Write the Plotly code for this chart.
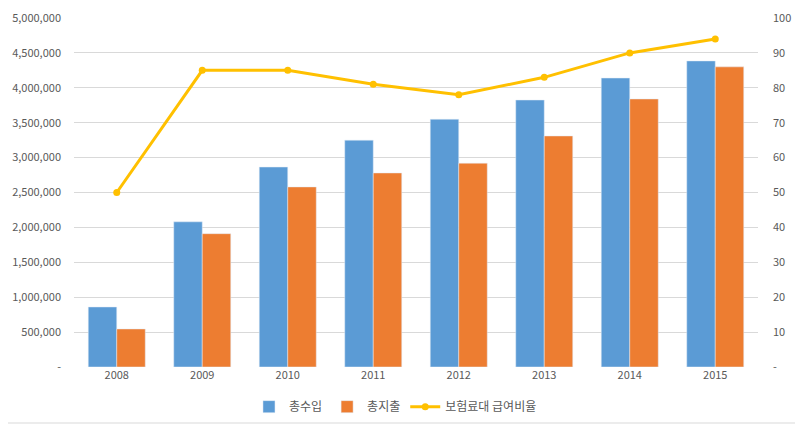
import plotly.graph_objects as go

years = ["2008", "2009", "2010", "2011", "2012", "2013", "2014", "2015"]
income = [860000, 2080000, 2865000, 3250000, 3550000, 3825000, 4140000, 4385000]
expense = [545000, 1910000, 2580000, 2780000, 2920000, 3310000, 3840000, 4300000]
ratio = [50, 85, 85, 81, 78, 83, 90, 94]

left_vals = list(range(0, 5000001, 500000))
left_text = ["-"] + [f"{v:,}" for v in left_vals[1:]]
right_vals = list(range(0, 101, 10))
right_text = ["-"] + [str(v) for v in right_vals[1:]]

FONT = "Noto Sans CJK KR"
GRAY = "#595959"

PW, PH = 684, 349

fig = go.Figure()
fig.add_trace(go.Bar(x=years, y=income, name="총수입", marker_color="#5B9BD5"))
fig.add_trace(go.Bar(x=years, y=expense, name="총지출", marker_color="#ED7D31"))
fig.add_trace(go.Scatter(x=years, y=ratio, name="보험료대 급여비율", yaxis="y2",
                         mode="lines+markers",
                         line=dict(color="#FFC000", width=3),
                         marker=dict(size=7, color="#FFC000")))

fig.update_layout(
    width=803, height=426,
    margin=dict(l=66, r=53, t=10, b=67, autoexpand=False),
    paper_bgcolor="white", plot_bgcolor="white",
    font=dict(family=FONT, size=11, color=GRAY),
    barmode="group", bargap=0.333, bargroupgap=0,
    showlegend=True,
    legend=dict(orientation="h", x=0.47, xanchor="center", y=-0.072, yanchor="top",
                font=dict(size=12, color=GRAY), traceorder="normal"),
    xaxis=dict(type="category", showgrid=False, showline=False, ticks="",
               automargin=False, tickfont=dict(size=11, color=GRAY)),
    yaxis=dict(range=[0, 5000000], tickvals=left_vals, ticktext=left_text,
               showgrid=True, gridcolor="#D9D9D9", gridwidth=1, zeroline=False,
               automargin=False, ticklabelstandoff=12, ticklabeloverflow="allow",
               tickfont=dict(size=11, color=GRAY)),
    yaxis2=dict(range=[0, 100], tickvals=right_vals, ticktext=right_text,
                overlaying="y", side="right", showgrid=False, zeroline=False,
                automargin=False, ticklabelstandoff=14, ticklabeloverflow="allow",
                tickfont=dict(size=11, color=GRAY)),
    shapes=[dict(type="rect", xref="paper", yref="paper",
                 x0=-80 / PW, x1=1 + 44 / PW, y0=-56 / PH, y1=1 + 20 / PH,
                 line=dict(color="#D9D9D9", width=1), fillcolor="rgba(0,0,0,0)",
                 layer="below")],
)

fig.write_html("out.html")
